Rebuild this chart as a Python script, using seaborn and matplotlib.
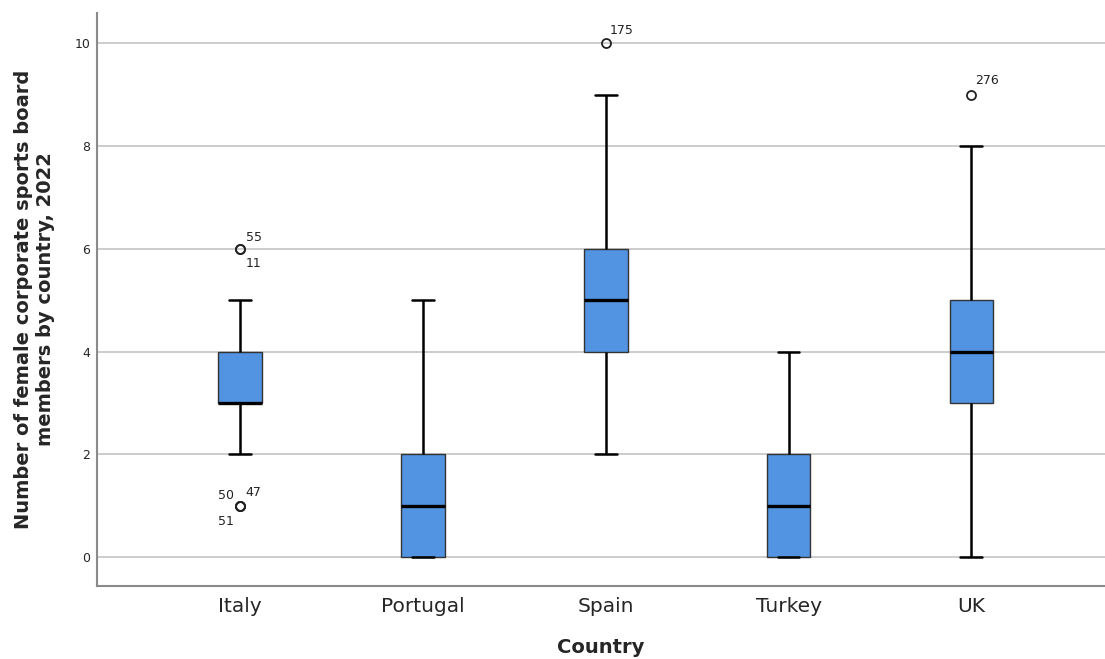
import numpy as np
import pandas as pd
import matplotlib
matplotlib.use("Agg")
import matplotlib.pyplot as plt
import seaborn as sns

# Countries and board member values (frequency tables chosen to reproduce the boxes)
countries = ["Italy", "Portugal", "Spain", "Turkey", "UK"]
italy_values = [1, 2, 3, 4, 5, 6]
italy_counts = [3, 5, 20, 15, 5, 2]
portugal_values = [0, 1, 2, 3, 4, 5]
portugal_counts = [15, 12, 10, 5, 4, 2]
spain_values = [2, 3, 4, 5, 6, 7, 8, 9, 10]
spain_counts = [3, 8, 15, 20, 15, 8, 5, 3, 1]
turkey_values = [0, 1, 2, 3, 4]
turkey_counts = [15, 12, 10, 6, 4]
uk_values = [0, 1, 2, 3, 4, 5, 6, 7, 8, 9]
uk_counts = [2, 4, 8, 20, 25, 20, 8, 5, 3, 1]

# outlier case labels: (country, value, label, x offset px, y offset px)
case_labels = [
    ("Italy", 6, "55", 6, 8),
    ("Italy", 6, "11", 6, -18),
    ("Italy", 1, "50", -22, 7),
    ("Italy", 1, "47", 6, 10),
    ("Italy", 1, "51", -22, -19),
    ("Spain", 10, "175", 4, 9),
    ("UK", 9, "276", 4, 11),
]

tables = [
    (italy_values, italy_counts),
    (portugal_values, portugal_counts),
    (spain_values, spain_counts),
    (turkey_values, turkey_counts),
    (uk_values, uk_counts),
]
rows = []
for country, (vals, cnts) in zip(countries, tables):
    for v in np.repeat(vals, cnts):
        rows.append({"Country": country, "Members": v})
df = pd.DataFrame(rows)

sns.set_style("white")
plt.rcParams["font.family"] = ["DejaVu Sans"]

fig = plt.figure(figsize=(11.05, 6.59), dpi=100)
ax = fig.add_axes([0.0878, 0.111, 0.9122, 0.8695])

sns.boxplot(data=df, x="Country", y="Members", order=countries, ax=ax,
            color="#5294E2", saturation=1, width=0.24, whis=1.5,
            linecolor="#1a1a1a", linewidth=1.0,
            boxprops={"edgecolor": "#333333", "linewidth": 1.0},
            medianprops={"color": "black", "linewidth": 2.4},
            whiskerprops={"color": "black", "linewidth": 1.8},
            capprops={"color": "black", "linewidth": 1.8},
            flierprops={"marker": "o", "markersize": 6.5, "markerfacecolor": "none",
                        "markeredgecolor": "#222222", "markeredgewidth": 1.3})

for country, val, label, dx, dy in case_labels:
    ax.annotate(label, xy=(countries.index(country), val), xytext=(dx, dy),
                textcoords="offset pixels", fontsize=9, color="#222222")

ax.set_ylim(-0.56, 10.59)
ax.set_xlim(-0.78, 4.73)
ax.set_yticks([0, 2, 4, 6, 8, 10])
ax.yaxis.grid(True, color="#c4c4c4", linewidth=1.2)
ax.set_axisbelow(True)
ax.tick_params(axis="both", length=0)
ax.tick_params(axis="y", labelsize=9, pad=5)
ax.tick_params(axis="x", labelsize=14.5, pad=8)

for side in ["top", "right"]:
    ax.spines[side].set_visible(False)
for side in ["left", "bottom"]:
    ax.spines[side].set_color("#8a8a8a")
    ax.spines[side].set_linewidth(1.5)

ax.set_xlabel("Country", fontsize=14, fontweight="bold", labelpad=16)
ax.set_ylabel("Number of female corporate sports board\nmembers by country, 2022",
              fontsize=14, fontweight="bold", labelpad=14)

fig.savefig("out.png", dpi=100)
